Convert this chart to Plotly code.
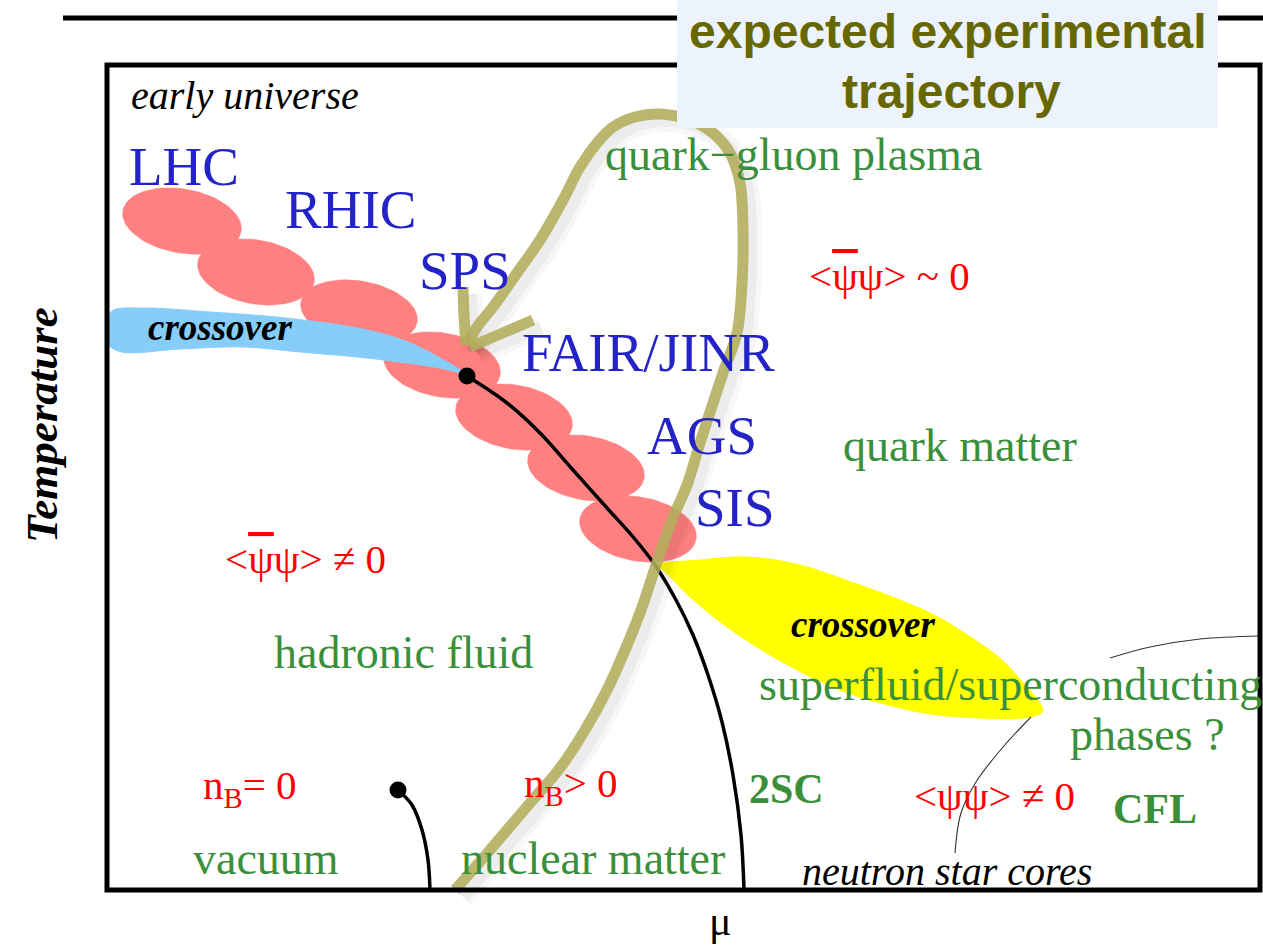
import numpy as np
import plotly.graph_objects as go

# ---------------- data (mu horizontally, T measured downward in figure units) -------------
# beam-energy regions (LHC ... SIS)
blob_mu = [182, 256, 359, 442, 514, 586, 638]
blob_T = [221, 272, 312, 365, 417, 468, 529]
blob_half_mu = [60, 59, 59, 59, 59, 59, 59]
blob_half_T = [32, 32, 31, 32, 32, 32, 32]

# crossover band at small mu (outline)
xover1_mu = [112, 143, 210, 286, 367, 408, 440, 464, 440, 367, 300, 245, 180, 122, 108, 107, 112]
xover1_T = [311, 308, 312, 318, 330, 342, 358, 373, 368, 358, 352, 347, 349, 352, 344, 325, 311]

# crossover band at large mu (outline)
xover2_mu = [655, 700, 748, 800, 854, 900, 938, 975, 1002, 1025, 1040, 1043, 1030, 980, 930, 896,
             850, 811, 770, 727, 690, 663, 655]
xover2_T = [565, 560, 557, 565, 583, 600, 617, 640, 660, 685, 703, 711, 717, 718, 714, 707,
            694, 677, 655, 627, 597, 570, 565]

# first-order line from the critical point
crit_mu = [467, 507, 540, 573, 607, 634, 655, 676, 693, 708, 722, 733, 741, 744]
crit_T = [376, 403, 433, 470, 508, 538, 565, 600, 635, 675, 722, 775, 835, 890]

# liquid-gas line
lg_mu = [398, 412, 422, 428, 430]
lg_T = [790, 805, 830, 860, 890]

# expected experimental trajectory
traj_mu = [455, 490, 530, 560, 585, 607, 625, 641, 656, 672, 687, 700, 713, 724, 737, 742,
           743, 740, 730, 713, 690, 660, 635, 613, 597, 580, 563, 540, 517, 493, 477, 467]
traj_T = [890, 850, 803, 768, 730, 690, 650, 610, 565, 520, 485, 443, 403, 370, 333, 283,
          233, 183, 153, 133, 120, 114, 117, 127, 143, 167, 200, 240, 273, 307, 327, 345]
barb1_mu = [463, 464, 466]
barb1_T = [287, 315, 345]
barb2_mu = [533, 505, 470]
barb2_T = [320, 332, 347]

# pointer lines to "neutron star cores"
ptrA_mu = [1110, 1150, 1200, 1260]
ptrA_T = [658, 647, 639, 636]
ptrB_mu = [1031, 1003, 976, 961, 955]
ptrB_T = [717, 747, 782, 813, 853]

# endpoints (critical points)
pt_mu = [467, 398]
pt_T = [376, 790]

# labels
accel_text = ["LHC", "RHIC", "SPS", "FAIR/JINR", "AGS", "SIS"]
accel_mu = [127, 283, 417, 520, 645, 693]
accel_T = [166, 209, 270, 352, 435, 507]

phase_text = ["quark\u2212gluon plasma", "quark matter", "hadronic fluid",
              "superfluid/superconducting", "phases ?", "vacuum", "nuclear matter"]
phase_mu = [603, 841, 272, 757, 1068, 191, 459]
phase_T = [154, 445, 652, 684, 734, 858, 858]

bold_text = ["2SC", "CFL"]
bold_mu = [747, 1111]
bold_T = [789, 809]

OVER = '<span style="text-decoration:overline">\u03c8</span>'
cond_text = ["&lt;" + OVER + "\u03c8&gt; ~ 0", "&lt;" + OVER + "\u03c8&gt; \u2260 0",
             "&lt;\u03c8\u03c8&gt; \u2260 0", "n<sub>B</sub>= 0", "n<sub>B</sub>&gt; 0"]
cond_mu = [807, 223, 912, 201, 522]
cond_T = [276, 559, 796, 788, 786]

italic_text = ["early universe", "neutron star cores"]
italic_mu = [129, 800]
italic_T = [95, 871]

xover_text = ["crossover", "crossover"]
xover_mu = [146, 789]
xover_T = [327, 624]

title_lines = ["expected experimental", "trajectory"]
title_mu = [948, 951]
title_T = [31, 91]

axis_x_label = "\u03bc"
axis_y_label = "Temperature"

# ---------------- figure ----------------
SERIF = "Liberation Serif, Times New Roman, serif"
SANS = "Liberation Sans, Arial, sans-serif"
GREEN = "#3a8f3a"
BLUE = "#2323c8"
RED = "#ff0000"
SALMON = "#ff8080"
CHALK = "#b3ae5c"
SKY = "#87cdfa"

fig = go.Figure()

# beam-energy blobs
t = np.linspace(0, 2 * np.pi, 80)
ang = np.deg2rad(10)
for cx, cy, rx, ry in zip(blob_mu, blob_T, blob_half_mu, blob_half_T):
    ex = cx + rx * np.cos(t) * np.cos(ang) - ry * np.sin(t) * np.sin(ang)
    ey = cy + rx * np.cos(t) * np.sin(ang) + ry * np.sin(t) * np.cos(ang)
    fig.add_trace(go.Scatter(x=ex, y=ey, mode="lines", fill="toself", fillcolor=SALMON,
                             line=dict(color=SALMON, width=0.5), hoverinfo="skip"))

# blue crossover band (over the blobs)
fig.add_trace(go.Scatter(x=xover1_mu, y=xover1_T, mode="lines", fill="toself",
                         fillcolor=SKY, line=dict(color=SKY, width=1, shape="spline"),
                         hoverinfo="skip"))

# yellow crossover band
fig.add_trace(go.Scatter(x=xover2_mu, y=xover2_T, mode="lines", fill="toself",
                         fillcolor="#ffff00", line=dict(color="#ffff00", width=1, shape="spline"),
                         hoverinfo="skip"))

# phase lines
fig.add_trace(go.Scatter(x=crit_mu, y=crit_T, mode="lines",
                         line=dict(color="black", width=3.5, shape="spline"), hoverinfo="skip"))
fig.add_trace(go.Scatter(x=lg_mu, y=lg_T, mode="lines",
                         line=dict(color="black", width=3.5, shape="spline"), hoverinfo="skip"))
fig.add_trace(go.Scatter(x=ptrA_mu, y=ptrA_T, mode="lines",
                         line=dict(color="#333333", width=1.1, shape="spline"), hoverinfo="skip"))
fig.add_trace(go.Scatter(x=ptrB_mu, y=ptrB_T, mode="lines",
                         line=dict(color="#333333", width=1.1, shape="spline"), hoverinfo="skip"))

# trajectory shadow + chalk line
paths = [(traj_mu, traj_T), (barb1_mu, barb1_T), (barb2_mu, barb2_T)]
for mus, Ts in paths:
    sx = np.array(mus) + 8
    sy = np.array(Ts) + 7
    fig.add_trace(go.Scatter(x=sx, y=sy, mode="lines",
                             line=dict(color="rgba(0,0,0,0.03)", width=22, shape="spline"),
                             hoverinfo="skip"))
    fig.add_trace(go.Scatter(x=sx, y=sy, mode="lines",
                             line=dict(color="rgba(0,0,0,0.045)", width=12, shape="spline"),
                             hoverinfo="skip"))
for mus, Ts in paths:
    fig.add_trace(go.Scatter(x=mus, y=Ts, mode="lines", opacity=0.88,
                             line=dict(color=CHALK, width=11, shape="spline"), hoverinfo="skip"))

# critical points
fig.add_trace(go.Scatter(x=pt_mu, y=pt_T, mode="markers",
                         marker=dict(color="black", size=17), hoverinfo="skip"))

# frame, top rule and title box
shapes = [
    dict(type="line", xref="x", yref="y", x0=63, x1=1263, y0=18, y1=18,
         line=dict(color="black", width=5), layer="above"),
    dict(type="rect", xref="x", yref="y", x0=107, x1=1260, y0=65, y1=890,
         line=dict(color="black", width=5), layer="above"),
    dict(type="rect", xref="x", yref="y", x0=677, x1=1218, y0=0, y1=128,
         fillcolor="#edf3fc", line=dict(width=0), layer="above"),
]

ann = []
def add_labels(texts, xs, ys, color, size, family=SERIF, bold=False, italic=False):
    for s, x, y in zip(texts, xs, ys):
        txt = s
        if bold:
            txt = "<b>" + txt + "</b>"
        if italic:
            txt = "<i>" + txt + "</i>"
        ann.append(dict(x=x, y=y, xref="x", yref="y", text=txt, showarrow=False,
                        xanchor="left", yanchor="middle",
                        font=dict(family=family, size=size, color=color)))

add_labels(accel_text, accel_mu, accel_T, BLUE, 55)
add_labels(phase_text, phase_mu, phase_T, GREEN, 46)
add_labels(bold_text, bold_mu, bold_T, GREEN, 42, bold=True)
add_labels(cond_text, cond_mu, cond_T, RED, 41)
add_labels(italic_text, italic_mu, italic_T, "black", 40, italic=True)
add_labels(xover_text, xover_mu, xover_T, "black", 37, bold=True, italic=True)

for s, x, y in zip(title_lines, title_mu, title_T):
    ann.append(dict(x=x, y=y, xref="x", yref="y", text="<b>" + s + "</b>", showarrow=False,
                    xanchor="center", yanchor="middle",
                    font=dict(family=SANS, size=48, color="#676700")))

ann.append(dict(x=720, y=921, xref="x", yref="y", text=axis_x_label, showarrow=False,
                xanchor="center", yanchor="middle",
                font=dict(family=SERIF, size=42, color="black")))
ann.append(dict(x=42, y=425, xref="x", yref="y", text="<b><i>" + axis_y_label + "</i></b>",
                showarrow=False, textangle=-90, xanchor="center", yanchor="middle",
                font=dict(family=SERIF, size=45, color="black")))

fig.update_layout(
    width=1263, height=946,
    margin=dict(l=0, r=0, t=0, b=0),
    paper_bgcolor="white", plot_bgcolor="white",
    showlegend=False,
    xaxis=dict(range=[0, 1263], visible=False, fixedrange=True),
    yaxis=dict(range=[946, 0], visible=False, fixedrange=True),
    shapes=shapes,
    annotations=ann,
)

fig.write_html("out.html", config={"displayModeBar": False},
               post_script="document.body.style.margin='0px';document.body.style.overflow='hidden';")
